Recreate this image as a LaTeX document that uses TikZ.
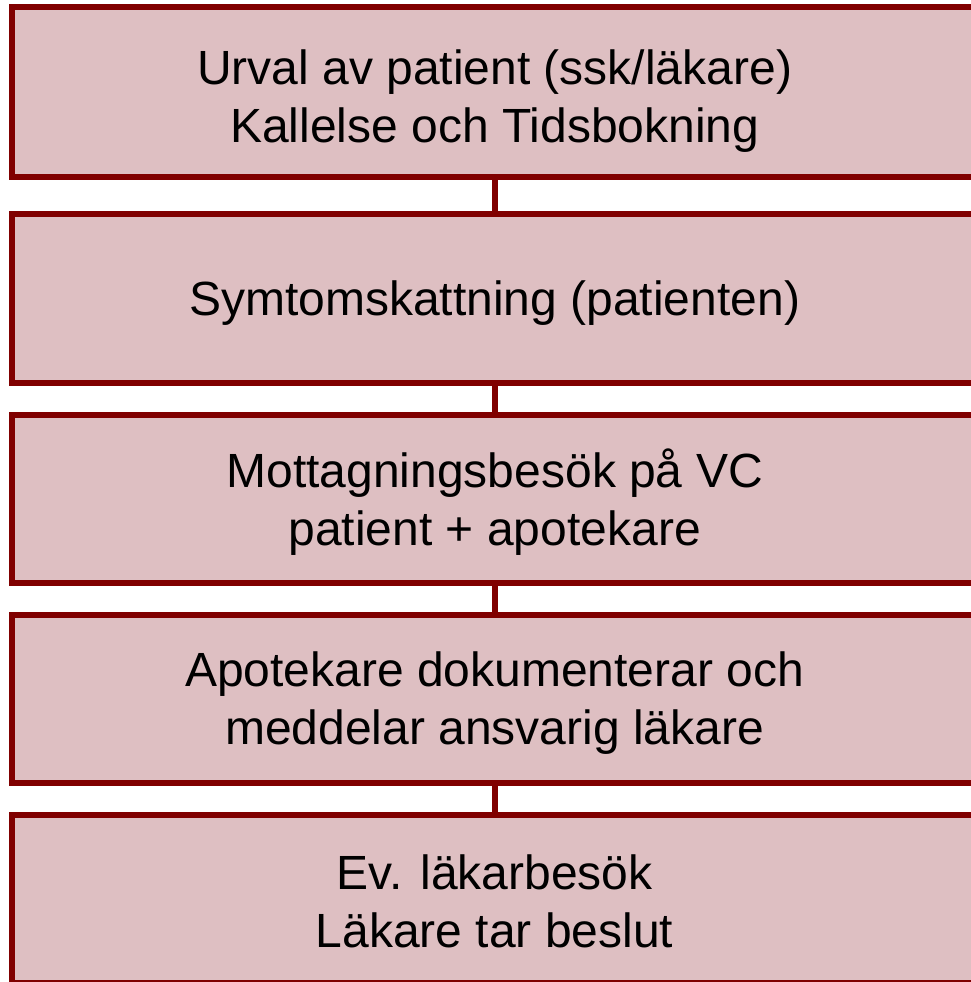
\documentclass[tikz,border=0pt]{standalone}
\usepackage{fontspec}
\setmainfont{Liberation Sans}
\definecolor{boxfill}{RGB}{222,191,194}
\definecolor{boxline}{RGB}{128,0,0}
\tikzset{
  stepbox/.style={draw=boxline, fill=boxfill, line width=6pt, rectangle,
    minimum width=964.7pt, inner sep=0pt},
  steptext/.style={align=center, inner sep=0pt,
    font=\fontsize{48}{58}\selectfont, text=black},
  link/.style={draw=boxline, line width=6pt}
}
\begin{document}
\begin{tikzpicture}[x=1pt,y=-1pt]
\useasboundingbox (0,0) rectangle (971,982);
\clip (0,0) rectangle (971,982);
\fill[white] (0,0) rectangle (971,982);
\node[stepbox, minimum height=169.4pt] (b1) at (494.65,92) {};
\node[stepbox, minimum height=169.4pt] (b2) at (494.65,298.6) {};
\node[stepbox, minimum height=168.6pt] (b3) at (494.65,499) {};
\node[stepbox, minimum height=168.6pt] (b4) at (494.65,699) {};
\node[stepbox, minimum height=168.6pt] (b5) at (494.65,899) {};
\node[steptext] (t1) at ([yshift=-9pt]b1.center) {Urval av patient (ssk/läkare)\\Kallelse och Tidsbokning};
\node[steptext] (t2) at ([yshift=-4pt]b2.center) {Symtomskattning (patienten)};
\node[steptext] (t3) at ([yshift=-3pt]b3.center) {Mottagningsbesök på VC\\patient + apotekare};
\node[steptext] (t4) at ([yshift=-4pt]b4.center) {Apotekare dokumenterar och\\meddelar ansvarig läkare};
\node[steptext] (t5) at ([yshift=-2pt]b5.center) {Ev. läkarbesök\\Läkare tar beslut};
\draw[link] (b1.south) -- (b2.north);
\draw[link] (b2.south) -- (b3.north);
\draw[link] (b3.south) -- (b4.north);
\draw[link] (b4.south) -- (b5.north);
\end{tikzpicture}
\end{document}
